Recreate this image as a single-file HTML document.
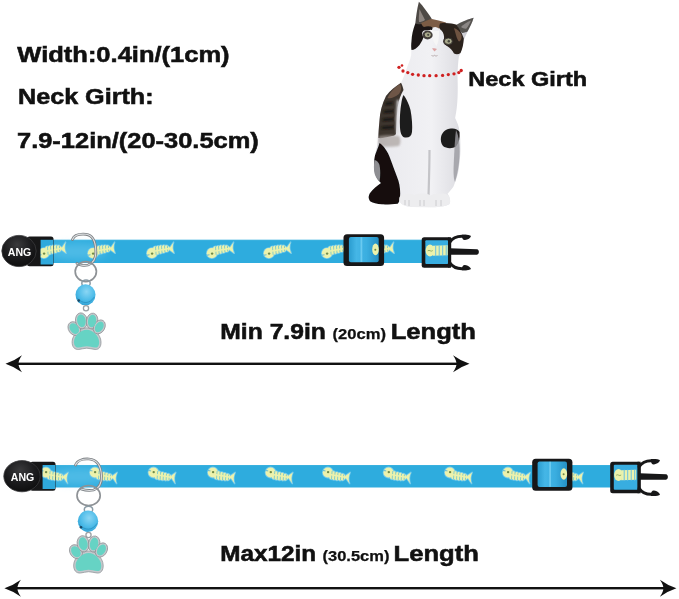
<!DOCTYPE html>
<html><head><meta charset="utf-8">
<style>
html,body{margin:0;padding:0;background:#fff;width:679px;height:599px;overflow:hidden}
svg{display:block;filter:blur(0.35px)}
text{font-family:"Liberation Sans",sans-serif;font-weight:bold;fill:#111}
</style></head><body>
<svg width="679" height="599" viewBox="0 0 679 599">
<defs>
  <filter id="soft3b" x="-50%" y="-50%" width="200%" height="200%"><feGaussianBlur stdDeviation="4"/></filter>
  <filter id="soft2" x="-20%" y="-20%" width="140%" height="140%"><feGaussianBlur stdDeviation="0.45"/></filter>
  <radialGradient id="ovalg" cx="0.45" cy="0.3" r="0.8">
    <stop offset="0" stop-color="#3a3a3c"/><stop offset="0.5" stop-color="#1c1c1e"/><stop offset="1" stop-color="#0a0a0a"/>
  </radialGradient>
  <linearGradient id="strapg" x1="0" y1="0" x2="1" y2="0">
    <stop offset="0" stop-color="#2a9ccf"/><stop offset="0.25" stop-color="#45b6e6"/><stop offset="0.6" stop-color="#3aaee0"/><stop offset="1" stop-color="#2590c4"/>
  </linearGradient>
  <radialGradient id="bellg" cx="0.55" cy="0.35" r="0.7">
    <stop offset="0" stop-color="#8ad6f4"/><stop offset="0.6" stop-color="#4cbbe8"/><stop offset="1" stop-color="#2f9fd2"/>
  </radialGradient>
  <g id="fishshape">
      <circle cx="9.6" cy="15.2" r="5.1"/>
      <path d="M11,9.6 Q12.5,7.6 14,8.8 Q15.5,6.9 17,8.3 Q18.5,6.6 20,7.9 Q21.5,6.4 23,7.7 Q24.5,6.6 26,8.3 L28.2,10.2 L26.5,12.8 Q25,14.6 23.3,13.8 Q21.8,15.6 20.2,14.6 Q18.7,16.4 17.1,15.3 Q15.6,17.2 14,16.2 Q12.5,18.2 11,17.4 Z"/>
      <path d="M27,10.4 L31.3,4.2 Q29.2,9.8 31.9,15.3 L27.6,12.2 Z"/>
  </g>
  <g id="fish">
      <use href="#fishshape" fill="#72c9ec" stroke="#72c9ec" stroke-width="1.6" stroke-linejoin="round"/>
      <use href="#fishshape" fill="#ecf2ac"/>
      <path d="M13.2,8.6 L13.8,16.8 M16.2,8 L16.8,15.9 M19.2,7.6 L19.7,15 M22.2,7.4 L22.6,14.2 M25.1,7.8 L25.4,13.4" stroke="#2eacde" stroke-width="0.75" opacity="0.7"/>
      <path d="M11.5,13.2 L27,10.5" stroke="#ecf2ac" stroke-width="1.6"/>
      <circle cx="9.8" cy="15.6" r="1.2" fill="#6f8a4a"/>
      <path d="M4.4,17.2 L7.2,16.8" stroke="#5ab4d8" stroke-width="0.9"/>
  </g>
  <g id="paw">
    <g fill="#c4c8cc" stroke="#8a8e92" stroke-width="0.7">
      <path d="M19,15.2 C12,15.2 4.6,22 4.4,29 C4.2,34.5 7,37.2 11,36.9 C14,36.7 16,35.6 19,35.6 C22,35.6 24.5,36.7 27.5,36.9 C31,37.2 33.6,34.5 33.3,29 C33,22 26,15.2 19,15.2 Z"/>
      <ellipse cx="6.6" cy="16" rx="5.8" ry="7.4" transform="rotate(-35 6.6 16)"/>
      <ellipse cx="13.7" cy="8.2" rx="5.9" ry="8" transform="rotate(-10 13.7 8.2)"/>
      <ellipse cx="24.4" cy="8.4" rx="5.7" ry="7.9" transform="rotate(10 24.4 8.4)"/>
      <ellipse cx="31.6" cy="14.3" rx="5.5" ry="7.4" transform="rotate(30 31.6 14.3)"/>
    </g>
    <g fill="#66d3c4">
      <path d="M19,17.2 C13,17.2 6.5,23.3 6.3,29 C6.1,33.3 8.3,35.2 11,35 C14,34.8 16,33.7 19,33.7 C22,33.7 24.5,34.8 27.5,35 C30.2,35.2 31.6,33.3 31.4,29 C31.2,23.3 25,17.2 19,17.2 Z"/>
      <ellipse cx="6.6" cy="16" rx="4.2" ry="5.8" transform="rotate(-35 6.6 16)"/>
      <ellipse cx="13.7" cy="8.2" rx="4.3" ry="6.4" transform="rotate(-10 13.7 8.2)"/>
      <ellipse cx="24.4" cy="8.4" rx="4.1" ry="6.3" transform="rotate(10 24.4 8.4)"/>
      <ellipse cx="31.6" cy="14.3" rx="3.9" ry="5.8" transform="rotate(30 31.6 14.3)"/>
    </g>
  </g>
</defs>

<text x="17.3" y="62.3" font-size="21.8" textLength="212.3" lengthAdjust="spacingAndGlyphs" style="stroke:#111;stroke-width:0.55">Width:0.4in/(1cm)</text>
<text x="18" y="103.75" font-size="22" textLength="135.6" lengthAdjust="spacingAndGlyphs" style="stroke:#111;stroke-width:0.55">Neck Girth:</text>
<text x="17" y="147.75" font-size="22" textLength="241.8" lengthAdjust="spacingAndGlyphs" style="stroke:#111;stroke-width:0.55">7.9-12in/(20-30.5cm)</text>
<text x="468.3" y="85.75" font-size="20.6" textLength="118.8" lengthAdjust="spacingAndGlyphs" style="stroke:#111;stroke-width:0.55">Neck Girth</text>

<g id="cat">
 <defs>
  <filter id="soft" x="-10%" y="-10%" width="120%" height="120%"><feGaussianBlur stdDeviation="0.6"/></filter>
  <filter id="soft3" x="-20%" y="-20%" width="140%" height="140%"><feGaussianBlur stdDeviation="1.3"/></filter>
  <linearGradient id="bodyg" x1="0" y1="0" x2="1" y2="0">
   <stop offset="0" stop-color="#d0d0d6"/><stop offset="0.2" stop-color="#ebebef"/><stop offset="0.6" stop-color="#f1f1f4"/><stop offset="0.85" stop-color="#dedee3"/><stop offset="1" stop-color="#b8b8c0"/>
  </linearGradient>
 </defs>
 <g filter="url(#soft)">
  <!-- silhouette -->
  <path d="M418.9,1.8 C417,9 416,17 415.3,23.6 C413,30 411.8,35 411.5,41 C411,47 411.5,51 411.2,55 C410.5,60 408,64 406.5,69 C405,74 403,79 401,82.7 C396,86 390,90 386,96 C382,104 380,112 379.5,120 C378.8,128 378.2,134 378,140 C377.5,146 376,150 375.2,154 C374,160 373.6,166 374,170 C374.5,176 377,180 381,183 C378,186 373,189 370.5,192.6 C368.3,195.5 368,199 370.5,201.5 C374,203.8 380,204.5 386,204.5 C392,204.3 397,203.8 400,202 C402,205 406,206.5 412,207 L432,207.3 C440,207.2 446,206.5 449.5,204 C451,201 450,197 447.6,193.7 C451,190 452.5,188 453.6,186.2 C456,180 458,175 458.6,169.6 C459.6,162 460.4,156 460.4,150 C460.4,142 460.2,136 459.6,132 C459,126 457,122 455.1,118 C458,105 458,90 457.5,76 C457.7,70 458,62 458.9,56.6 C460.5,53 462,50 462.4,46 C463,42 464,39 464.2,38.9 C466,35 467,33 467.5,31.5 C470,27 472.5,22 473.6,17.7 C467,19.5 461,22 456.6,24.7 C452,23.5 448,22.5 444,22 C440,21 435,19.5 431.8,18.9 C428,13 423,6 418.9,1.8 Z" fill="url(#bodyg)"/>
  <!-- ears -->
  <path d="M418.9,1.8 C417,9 416,17 415.3,24 C418,26 421,27 424,26.5 C427,23.5 429.5,21 431.8,18.9 C428,13 423,6 418.9,1.8 Z" fill="#4e4844"/>
  <path d="M419.5,9 C419,14 418.5,19 419,22 C421,22 423,21.5 425,20 C423,16 421,12 419.5,9 Z" fill="#8d8580"/>
  <path d="M473.6,17.7 C467,19.5 461,22 456.6,24.7 C458,28 460,31 462,33 C464.5,32.5 466.5,32 467.5,31.5 C470,27 472.5,22 473.6,17.7 Z" fill="#55524f"/>
  <path d="M471,20.5 C467,22 463,24.5 461,27 C463,28.5 465,29 466.5,28.5 C468.5,26 470,23 471,20.5 Z" fill="#8a8684"/>
  <!-- face dark patches -->
  <path d="M415.3,23.6 C413,30 411.8,35 411.5,41 C411,45 411.2,48 411.5,50 C414,50 417,48 419.5,45 C421.5,42 423,39 423.5,37 C421.5,35 421.5,32 424,30.5 C427,29.5 430,30 432,30 C433,27.5 433,25 431,22.5 C428,22 424,23 421,24 C419,24.5 417,24 415.3,23.6 Z" fill="#1d1917"/>
  <path d="M421,23 C425,21 429,19.5 431.8,18.9 C436,19.8 441,21 446,22.5 C444.5,26 442,28 439,28.5 C437,27 435,26.5 433,27.5 C430,26 427,26 424,27 C422.5,26 421.5,24.5 421,23 Z" fill="#7b5c44"/>
  <path d="M440,23.5 C446,22.5 452,23.5 456.6,24.7 C459,28 461.5,32 463.8,38.5 C463.5,44 462.5,49 460.5,53 C458.5,54.5 456,54.5 454,53.5 C452.5,50.5 450,47.5 447,46 C444.5,44.5 443.5,42 444,39 C444.5,36 443.5,32.5 441.5,30.5 C439.5,29 438.5,27 440,23.5 Z" fill="#2b221d"/>
  <path d="M454,28 C457,29 460,31.5 461.5,35 C462,38 461,41 459,41.5 C457,39.5 456,35 454,28 Z" fill="#6e5240"/>
  <path d="M430.5,29.5 C433,31 436,31.5 439,30.5 C439.5,36 438.5,42 436.5,46 C434,43 431.5,37 430.5,29.5 Z" fill="#f6f6f6"/>
 </g>
 <g filter="url(#soft)">
  <!-- body: left shoulder tabby -->
  <path d="M401,82.7 C396,86 390,90 386,96 C382,104 380,112 379.5,120 C378.8,128 378.3,134 378.4,138 C381,138.5 386,137.5 390,136.5 C393,136 395,135.5 396,134 C396.5,126 396.5,118 397.5,108 C398.5,100 401,94 403.5,90 C403,87 402,84.5 401,82.7 Z" fill="#3e342e"/>
  <path d="M400,84 C395,87 390,92 387.5,98 C391,99 395,97 399,94 C401,91 402,88 400,84 Z" fill="#6e5646"/>
 </g>
 <g filter="url(#soft3)">
  <path d="M379,136 C385,135 393,135 399,136 C401,139 401,143 399,146 C393,147 385,147 379,146 C378,143 378,139 379,136 Z" fill="#a8a09c" opacity="0.7"/>
  <path d="M385,104 L393,103 M383.5,112 L394,111 M382.5,120 L394,119 M381.5,128 L394,127" stroke="#16120f" stroke-width="2.4"/><path d="M398,100 C397,112 397,125 397.5,134" stroke="#d8d8dc" stroke-width="2.2" fill="none"/>
 </g>
 <g filter="url(#soft)">
  <!-- black stripe -->
  <path d="M403.5,95 C406,98 409,104 410.5,110 C412,118 412.5,126 412,132 C411.5,136 409,138 405,137.5 C402,137 400.5,134 400,128 C399.5,120 400,110 401.5,102 C402,99 402.5,97 403.5,95 Z" fill="#1f1c1b"/>
  <!-- right patch -->
  <path d="M441,137 C442,132 446,129 451,128.5 C455,128 458,129.5 459.5,132 C460,138 459,143 456,146.5 C452,149 446,148.5 443,146 C441,143.5 440.5,140 441,137 Z" fill="#1e1c1c"/>
  <path d="M456,130 C459,136 460,146 459.5,156 C459,166 457.5,174 455,182 C453,178 453.5,168 454,158 C454.5,148 455,138 456,130 Z" fill="#9a9aa0" opacity="0.8"/>
  <!-- black haunch + tail -->
  <path d="M379.5,143 C384,146 388,152 390,158 C393,166 396,174 398.5,181 C400,186 400.5,192 400,198 C399.5,201 398.5,203 397.7,203.7 C392,204.3 386,204.5 382,204.3 C377,204 373,203 370.5,201.5 C368,199 368.3,195.5 370.5,192.6 C373,189 377,186 381,183 C379,181 376,178 375,172 C374,166 373.8,160 375,155.5 C376.5,151 378.5,147 379.5,143 Z" fill="#121010"/>
  <path d="M374.5,160 C373.8,165 373.8,169 374.3,172 C375,176 377,179 379.5,181.5 C380.5,176 380.5,170 379.5,165 C378.5,162 376.5,160.5 374.5,160 Z" fill="#8e8e92"/>
  <!-- leg shading -->
  <path d="M429.5,150 C429.5,165 429,180 428.5,196" stroke="#c4c4c8" stroke-width="2.2" fill="none"/>
  
  <!-- feet -->
  <path d="M399.5,197 C402,193.5 410,193 414.5,195 C420,193 427,193 430.5,195.5 C436,193 444,193 448,195 C450.5,198 450.5,202 449.5,204 C446,206.5 440,207.2 432,207.3 L412,207 C406,206.5 401.5,205 399.8,202 C399,200.5 399,198.5 399.5,197 Z" fill="#ededef"/>
  <path d="M405,200 L405,205 M409,200 L409,206 M420,200 L420,206 M424,200 L424,206 M436,200 L436,206 M441,200 L441,206" stroke="#c8c8cc" stroke-width="0.9"/>
 </g>
 <!-- eyes -->
 <ellipse cx="427.5" cy="35" rx="5.2" ry="4.4" fill="#2a2420" filter="url(#soft)" opacity="0.85"/>
 <ellipse cx="448.6" cy="41.3" rx="5.6" ry="4.6" fill="#2a2420" filter="url(#soft)" opacity="0.85"/>
 <ellipse cx="427.8" cy="34.8" rx="3.6" ry="3" fill="#a9a98c" stroke="#2a2622" stroke-width="0.8"/>
 <ellipse cx="448.3" cy="41.2" rx="4" ry="3.2" fill="#a9a98c" stroke="#2a2622" stroke-width="0.8"/>
 <circle cx="428.2" cy="34.8" r="1.1" fill="#4a4a40"/>
 <circle cx="448.8" cy="41.2" r="1.2" fill="#4a4a40"/>
 <path d="M432,48.5 C433.5,48 435.5,48 437,49 L434.5,51.5 Z" fill="#dca4a4" filter="url(#soft)"/>
 <path d="M431.5,55.5 C433,56.3 434,56 434.5,55.3 C435,56 436.5,56.3 437.5,55.5" stroke="#a09090" stroke-width="0.7" fill="none"/>
 <!-- red dotted neck line -->
 <g fill="#cf2020">
  <circle cx="399" cy="67.3" r="1.65"/><circle cx="402" cy="65.5" r="1.3"/>
  <circle cx="403" cy="71" r="1.65"/><circle cx="407.8" cy="72.6" r="1.65"/><circle cx="412.6" cy="74.3" r="1.65"/>
  <circle cx="418.3" cy="75" r="1.65"/><circle cx="424" cy="75.7" r="1.65"/><circle cx="429.7" cy="75.7" r="1.65"/>
  <circle cx="436.1" cy="75.7" r="1.65"/><circle cx="442.6" cy="75.4" r="1.65"/><circle cx="448.3" cy="74.6" r="1.65"/>
  <circle cx="454" cy="73.8" r="1.65"/><circle cx="458.8" cy="72.6" r="1.65"/><circle cx="461.2" cy="70.5" r="1.65"/>
 </g>
</g>


<g id="collar1">
<rect x="41" y="239.8" width="382" height="23.19999999999999" fill="#2eacde"/>
<rect x="41" y="239.8" width="382" height="1.2" fill="#3fb3e0" opacity="0.7"/>
<ellipse cx="77" cy="251.4" rx="30" ry="8" fill="#8ad8f6" opacity="0.35" filter="url(#soft3b)"/>
<g filter="url(#soft2)">
<use href="#fish" transform="translate(34.3,238.0) scale(1.0)"/>
<use href="#fish" transform="translate(83.3,238.0) scale(1.0)"/>
<use href="#fish" transform="translate(142.3,238.0) scale(1.0)"/>
<use href="#fish" transform="translate(202.3,238.0) scale(1.0)"/>
<use href="#fish" transform="translate(259.3,238.0) scale(1.0)"/>
<use href="#fish" transform="translate(317.3,238.0) scale(1.0)"/>
<use href="#fish" transform="translate(362.3,238.0) scale(1.0)"/>
</g>
<rect x="27" y="236.60000000000002" width="26.5" height="29.69999999999999" rx="2.5" fill="#171718"/>
<rect x="40.6" y="239.8" width="12.5" height="24.69999999999999" fill="#2fa9dc"/>
<clipPath id="mouth239"><rect x="40.6" y="239.8" width="12.5" height="24.69999999999999"/></clipPath>
<g clip-path="url(#mouth239)"><g filter="url(#soft2)"><use href="#fish" transform="translate(34.3,238.0) scale(1.0)"/></g></g>
<ellipse cx="19" cy="251" rx="17.2" ry="15.6" fill="url(#ovalg)" stroke="#3a3a3c" stroke-width="0.8"/>
<text x="7.800000000000001" y="256" font-size="11" style="fill:#fff" textLength="23.5" lengthAdjust="spacingAndGlyphs">ANG</text>
<rect x="343.5" y="234.2" width="40.60000000000002" height="31.80000000000001" rx="3.5" fill="#171718"/>
<rect x="348.9" y="237.0" width="29.800000000000022" height="25.20000000000001" rx="2" fill="url(#strapg)"/>
<rect x="360.5" y="237.2" width="1.8" height="24.80000000000001" fill="#74d0f2" opacity="0.8"/>
<g filter="url(#soft2)"><ellipse cx="375.5" cy="249.39999999999998" rx="3.3" ry="5.8" fill="#ecf2ac"/><circle cx="375.3" cy="249.7" r="1" fill="#6f8a4a"/></g>
<rect x="421.7" y="237.3" width="29.400000000000034" height="30.399999999999977" rx="2.5" fill="#171718"/>
<rect x="425.3" y="240.3" width="22.800000000000033" height="23.799999999999976" rx="1" fill="#38ade0"/>
<g filter="url(#soft2)"><ellipse cx="430.0" cy="250.60000000000002" rx="4.4" ry="6" fill="#ecf2ac"/><path d="M432.7,245.8 L447.7,245.3 L447.7,255.3 L432.7,255.8 Z" fill="#ecf2ac"/><path d="M435.7,245.3 V256.3 M439.2,245.3 V256.3 M442.7,245.3 V256.3 M446.2,245.3 V256.3" stroke="#6cc0e0" stroke-width="1"/><path d="M427.7,250.8 C429.7,249.3 430.7,252.3 432.7,250.60000000000002" stroke="#8aa860" stroke-width="0.9" fill="none"/></g>
<rect x="448.1" y="237.3" width="3" height="30.399999999999977" fill="#171718"/>
<path d="M449.6,242.3 C452.6,237.8 456.1,236.3 462,236.3 L466,236.3" fill="none" stroke="#171718" stroke-width="3" stroke-linecap="round"/>
<path d="M449.6,262.7 C452.6,267.2 456.1,268.7 462,268.7 L466,268.7" fill="none" stroke="#171718" stroke-width="3" stroke-linecap="round"/>
<path d="M462,234.70000000000002 C466,234.5 470,234.8 471,235.9 C470.5,238.10000000000002 468,239.5 465,240.10000000000002 C463,240.3 462.5,238.8 462,237.3 Z" fill="#171718"/>
<path d="M462,270.3 C466,270.5 470,270.2 471,269.09999999999997 C470.5,266.9 468,265.5 465,264.9 C463,264.7 462.5,266.2 462,267.7 Z" fill="#171718"/>
<path d="M450.1,248.3 L477,249.3 C479.5,249.7 479.5,254.3 477,254.7 L450.1,254.7 Z" fill="#171718"/>
<path d="M72.5,239.5 C74,235 80,233.8 86,234.3 C92,235 95.5,240 95.8,251 C96,258 94,263 88,265 C84,266 79,265 77,263.5" fill="none" stroke="#7c8084" stroke-width="2.7" stroke-linecap="round"/>
<path d="M72.5,239.5 C74,235 80,233.8 86,234.3 C92,235 95.5,240 95.8,251 C96,258 94,263 88,265 C84,266 79,265 77,263.5" fill="none" stroke="#dcdee0" stroke-width="1.1" stroke-linecap="round"/>
<ellipse cx="85.8" cy="271.6" rx="10.6" ry="10" fill="none" stroke="#8e9296" stroke-width="1.7"/>
<ellipse cx="86.0" cy="283.3" rx="4.2" ry="3.4" fill="none" stroke="#8a9aa4" stroke-width="1.5"/>
<ellipse cx="85.5" cy="294.8" rx="10" ry="10.5" fill="url(#bellg)"/>
<path d="M77.0,297.8 C82.5,304.3 89.5,304.3 94.5,296.8" fill="none" stroke="#2b94c4" stroke-width="0.9"/>
<circle cx="78.7" cy="300.6" r="1.3" fill="#1c4a66"/>
<ellipse cx="86.0" cy="308.3" rx="2.6" ry="2.6" fill="none" stroke="#9aa0a4" stroke-width="1.3"/>
<use href="#paw" transform="translate(67.7,312.6) scale(1.0)"/>
</g>

<text x="220.3" y="338.75" font-size="22.2" textLength="105.6" lengthAdjust="spacingAndGlyphs" style="stroke:#111;stroke-width:0.55">Min 7.9in</text>
<text x="332.5" y="338.6" font-size="14.6" textLength="53.5" lengthAdjust="spacingAndGlyphs" style="stroke:#111;stroke-width:0.25">(20cm)</text>
<text x="390.75" y="338.5" font-size="22" textLength="85.2" lengthAdjust="spacingAndGlyphs" style="stroke:#111;stroke-width:0.55">Length</text>
<g fill="#111">
  <rect x="13.5" y="362.6" width="448.0" height="2.4"/>
  <path d="M5.5,363.8 Q14.5,360.8 22.0,355.3 C19.5,358.8 18.5,361.8 18.5,363.8 C18.5,365.8 19.5,368.8 22.0,372.3 Q14.5,366.8 5.5,363.8 Z"/>
  <path d="M469.5,363.8 Q460.5,360.8 453.0,355.3 C455.5,358.8 456.5,361.8 456.5,363.8 C456.5,365.8 455.5,368.8 453.0,372.3 Q460.5,366.8 469.5,363.8 Z"/>
</g>

<g id="collar2">
<rect x="43" y="465" width="568" height="22.5" fill="#2eacde"/>
<rect x="43" y="465" width="568" height="1.2" fill="#3fb3e0" opacity="0.7"/>
<ellipse cx="79" cy="476.25" rx="30" ry="8" fill="#8ad8f6" opacity="0.35" filter="url(#soft3b)"/>
<g filter="url(#soft2)">
<use href="#fish" transform="translate(36.3,487.7) scale(1,-1)"/>
<use href="#fish" transform="translate(85.3,487.7) scale(1,-1)"/>
<use href="#fish" transform="translate(143.9,487.7) scale(1,-1)"/>
<use href="#fish" transform="translate(203.3,487.7) scale(1,-1)"/>
<use href="#fish" transform="translate(261.0,487.7) scale(1,-1)"/>
<use href="#fish" transform="translate(318.3,487.7) scale(1,-1)"/>
<use href="#fish" transform="translate(379.0,487.7) scale(1,-1)"/>
<use href="#fish" transform="translate(440.3,487.7) scale(1,-1)"/>
<use href="#fish" transform="translate(498.3,487.7) scale(1,-1)"/>
<use href="#fish" transform="translate(551.3,487.7) scale(1,-1)"/>
</g>
<rect x="30" y="461.8" width="25.5" height="29.0" rx="2.5" fill="#171718"/>
<rect x="42.6" y="465" width="12.5" height="24.0" fill="#2fa9dc"/>
<clipPath id="mouth465"><rect x="42.6" y="465" width="12.5" height="24.0"/></clipPath>
<g clip-path="url(#mouth465)"><g filter="url(#soft2)"><use href="#fish" transform="translate(36.3,487.7) scale(1,-1)"/></g></g>
<ellipse cx="22" cy="476.2" rx="18.2" ry="15.6" fill="url(#ovalg)" stroke="#3a3a3c" stroke-width="0.8"/>
<text x="10.8" y="481.2" font-size="11" style="fill:#fff" textLength="23.5" lengthAdjust="spacingAndGlyphs">ANG</text>
<rect x="532.2" y="458.8" width="40.19999999999993" height="32.0" rx="3.5" fill="#171718"/>
<rect x="537.6" y="461.6" width="29.39999999999993" height="25.4" rx="2" fill="url(#strapg)"/>
<rect x="549.2" y="461.8" width="1.8" height="25.0" fill="#74d0f2" opacity="0.8"/>
<g filter="url(#soft2)"><ellipse cx="563.8" cy="474.0" rx="3.3" ry="5.8" fill="#ecf2ac"/><circle cx="563.6" cy="474.3" r="1" fill="#6f8a4a"/></g>
<rect x="610.2" y="461.7" width="30.399999999999977" height="31.600000000000023" rx="2.5" fill="#171718"/>
<rect x="613.8000000000001" y="464.7" width="23.799999999999976" height="25.00000000000002" rx="1" fill="#38ade0"/>
<g filter="url(#soft2)"><ellipse cx="618.5" cy="475.0" rx="4.4" ry="6" fill="#ecf2ac"/><path d="M621.2,470.2 L636.2,469.7 L636.2,479.7 L621.2,480.2 Z" fill="#ecf2ac"/><path d="M624.2,469.7 V480.7 M627.7,469.7 V480.7 M631.2,469.7 V480.7 M634.7,469.7 V480.7" stroke="#6cc0e0" stroke-width="1"/><path d="M616.2,475.2 C618.2,473.7 619.2,476.7 621.2,475.0" stroke="#8aa860" stroke-width="0.9" fill="none"/></g>
<rect x="637.6" y="461.7" width="3" height="31.600000000000023" fill="#171718"/>
<path d="M639.1,466.7 C642.1,462.2 645.6,460.7 651,460.7 L655,460.7" fill="none" stroke="#171718" stroke-width="3" stroke-linecap="round"/>
<path d="M639.1,488.3 C642.1,492.8 645.6,494.3 651,494.3 L655,494.3" fill="none" stroke="#171718" stroke-width="3" stroke-linecap="round"/>
<path d="M651,459.09999999999997 C655,458.9 659,459.2 660,460.3 C659.5,462.5 657,463.9 654,464.5 C652,464.7 651.5,463.2 651,461.7 Z" fill="#171718"/>
<path d="M651,495.90000000000003 C655,496.1 659,495.8 660,494.7 C659.5,492.5 657,491.1 654,490.5 C652,490.3 651.5,491.8 651,493.3 Z" fill="#171718"/>
<path d="M639.6,473.3 L666,474.3 C668.5,474.7 668.5,479.3 666,479.7 L639.6,479.7 Z" fill="#171718"/>
<path d="M75.5,465 C77,460.5 83,458.6 89,459 C96,459.6 101,465 101.5,476 C101.8,483 99.8,488 93.5,490 C89,491 84,490 81,489" fill="none" stroke="#7c8084" stroke-width="2.7" stroke-linecap="round"/>
<path d="M75.5,465 C77,460.5 83,458.6 89,459 C96,459.6 101,465 101.5,476 C101.8,483 99.8,488 93.5,490 C89,491 84,490 81,489" fill="none" stroke="#dcdee0" stroke-width="1.1" stroke-linecap="round"/>
<ellipse cx="88.6" cy="495.5" rx="11.6" ry="10" fill="none" stroke="#8e9296" stroke-width="1.7"/>
<ellipse cx="88.5" cy="509.59999999999997" rx="4.2" ry="3.4" fill="none" stroke="#8a9aa4" stroke-width="1.5"/>
<ellipse cx="88" cy="521.3" rx="10.2" ry="10.709999999999999" fill="url(#bellg)"/>
<path d="M79.3,524.3 C85,531.0 92,531.0 97.2,523.3" fill="none" stroke="#2b94c4" stroke-width="0.9"/>
<circle cx="81.0" cy="527.3" r="1.3" fill="#1c4a66"/>
<ellipse cx="88.5" cy="535.0" rx="2.6" ry="2.6" fill="none" stroke="#9aa0a4" stroke-width="1.3"/>
<use href="#paw" transform="translate(69.2,535.4) scale(1.02)"/>
</g>

<text x="220.3" y="561.25" font-size="21.8" textLength="95.9" lengthAdjust="spacingAndGlyphs" style="stroke:#111;stroke-width:0.55">Max12in</text>
<text x="322.5" y="561.3" font-size="14.6" textLength="66.9" lengthAdjust="spacingAndGlyphs" style="stroke:#111;stroke-width:0.25">(30.5cm)</text>
<text x="393.6" y="561.3" font-size="22" textLength="85.3" lengthAdjust="spacingAndGlyphs" style="stroke:#111;stroke-width:0.55">Length</text>
<g fill="#111">
  <rect x="12.4" y="587.0" width="656.0" height="2.4"/>
  <path d="M4.4,588.2 Q13.4,585.2 20.9,579.7 C18.4,583.2 17.4,586.2 17.4,588.2 C17.4,590.2 18.4,593.2 20.9,596.7 Q13.4,591.2 4.4,588.2 Z"/>
  <path d="M676.4,588.2 Q667.4,585.2 659.9,579.7 C662.4,583.2 663.4,586.2 663.4,588.2 C663.4,590.2 662.4,593.2 659.9,596.7 Q667.4,591.2 676.4,588.2 Z"/>
</g>
</svg>
</body></html>
